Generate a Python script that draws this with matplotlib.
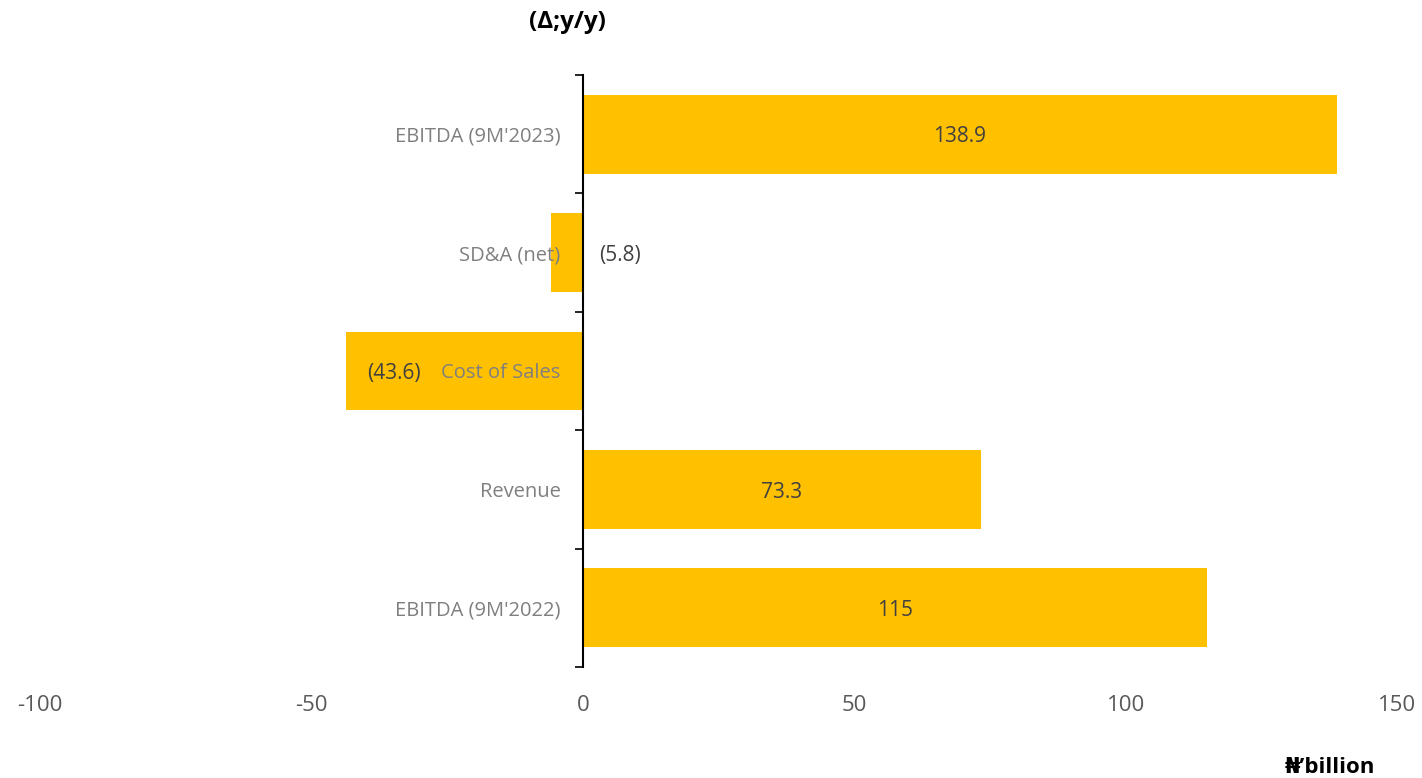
import matplotlib.pyplot as plt

plt.rcParams['font.family'] = ['Open Sans', 'DejaVu Sans']

# bridge from 9M'2022 EBITDA to 9M'2023 EBITDA, bottom to top
categories = ["EBITDA (9M'2022)", "Revenue", "Cost of Sales", "SD&A (net)", "EBITDA (9M'2023)"]
values = [115, 73.3, -43.6, -5.8, 138.9]
value_labels = ["115", "73.3", "(43.6)", "(5.8)", "138.9"]
x_ticks = [-100, -50, 0, 50, 100, 150]

BAR_COLOR = '#FFC000'

fig = plt.figure(figsize=(14.22, 7.78), dpi=100)
ax = fig.add_axes([0.0281, 0.1427, 0.9543, 0.7609])

ypos = range(len(categories))
ax.barh(ypos, values, height=0.667, color=BAR_COLOR, zorder=1)

# value labels: positives sit in the middle of the bar, negatives in brackets
for y, v, lab in zip(ypos, values, value_labels):
    if v >= 0:
        x, dx, ha = v / 2, 0, 'center'
    elif v < -20:
        x, dx, ha = v, 15, 'left'
    else:
        x, dx, ha = 0, 12, 'left'
    ax.annotate(lab, (x, y), xytext=(dx, -2), textcoords='offset points',
                ha=ha, va='center', fontsize=15, color='#404040')

ax.set_xlim(-100, 150)
ax.set_ylim(-0.5, len(categories) - 0.5)

# vertical axis at zero with small ticks between categories
for s in ['top', 'right', 'bottom']:
    ax.spines[s].set_visible(False)
ax.spines['left'].set_position(('data', 0))
ax.spines['left'].set_linewidth(1.5)
ax.spines['left'].set_zorder(3)

ax.set_yticks([y + 0.5 for y in range(-1, len(categories))])
ax.set_yticklabels([])
ax.tick_params(axis='y', which='major', length=6, width=1.2, direction='out')
ax.set_yticks(list(ypos), minor=True)
ax.set_yticklabels(categories, minor=True, fontsize=14.5, color='#7f7f7f')
ax.tick_params(axis='y', which='minor', length=0, pad=16)

ax.set_xticks(x_ticks)
ax.set_xticklabels([str(t) for t in x_ticks], fontsize=16, color='#595959')
ax.tick_params(axis='x', length=0, pad=20)

fig.text(0.399, 0.972, '(Δ;y/y)', ha='center', va='center', fontsize=17.5, fontweight='bold')
fig.text(0.935, 0.013, '₦’billion', ha='center', va='center', fontsize=16, fontweight='bold')

fig.savefig('out.png', dpi=100)
